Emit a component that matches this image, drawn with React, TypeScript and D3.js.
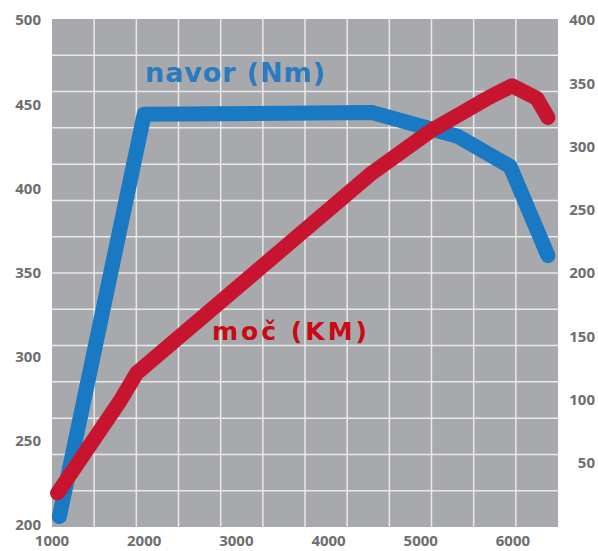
import React from "react";
import * as d3 from "d3";

// ---- data ----
const rpmTicks = [1000, 2000, 3000, 4000, 5000, 6000];
const torqueTicks = [200, 250, 300, 350, 400, 450, 500];
const powerTicks = [50, 100, 150, 200, 250, 300, 350, 400];

const torqueRpm = [1080, 2000, 4470, 5400, 5970, 6380];
const torqueNm = [205, 444, 445, 431, 413, 360];

const powerRpm = [1060, 1740, 1920, 4470, 5100, 5720, 5990, 6260, 6380];
const powerKM = [26, 99, 121, 279, 312, 338, 348, 338, 323];

const gridCols = 12;
const gridRows = 14;

const torqueLabel = "navor (Nm)";
const powerLabel = "moč (KM)";

// ---- layout ----
const W = 598;
const H = 551;
const plotLeft = 52;
const plotRight = 558;
const plotTop = 19;
const plotBottom = 527;

const FONT = "'Open Sans', sans-serif";
const LABEL_FONT = "'DejaVu Sans', sans-serif";

export default function App() {
  const x = d3.scaleLinear().domain([1000, 6500]).range([52, 559]);
  const yL = d3.scaleLinear().domain([200, 500]).range([525, 20]);
  const yR = d3.scaleLinear().domain([0, 400]).range([526, 20]);

  const gx = d3.scaleLinear().domain([0, gridCols]).range([plotLeft, plotRight]);
  const gy = d3.scaleLinear().domain([0, gridRows]).range([plotTop, plotBottom]);

  const torquePts: [number, number][] = torqueRpm.map((r, i) => [x(r), yL(torqueNm[i])]);
  const powerPts: [number, number][] = powerRpm.map((r, i) => [x(r), yR(powerKM[i])]);
  const line = d3.line();

  const axisColor = "#6d6e71";

  return (
    <svg
      width={W}
      height={H}
      style={{ position: "absolute", left: 0, top: 0, background: "#fff" }}
    >
      <rect
        x={plotLeft}
        y={plotTop}
        width={plotRight - plotLeft}
        height={plotBottom - plotTop}
        fill="#a7a9ac"
      />
      {d3.range(1, gridCols).map((i) => (
        <line
          key={"gc" + i}
          x1={gx(i)}
          x2={gx(i)}
          y1={plotTop}
          y2={plotBottom}
          stroke="#e9e9ea"
          strokeWidth={1.5}
        />
      ))}
      {d3.range(1, gridRows).map((i) => (
        <line
          key={"gr" + i}
          x1={plotLeft}
          x2={plotRight}
          y1={gy(i)}
          y2={gy(i)}
          stroke="#e9e9ea"
          strokeWidth={1.5}
        />
      ))}

      <path
        d={line(torquePts) || ""}
        fill="none"
        stroke="#1a79c3"
        strokeWidth={15}
        strokeLinecap="round"
        strokeLinejoin="round"
      />
      <path
        d={line(powerPts) || ""}
        fill="none"
        stroke="#c8152f"
        strokeWidth={15}
        strokeLinecap="round"
        strokeLinejoin="round"
      />

      <text
        x={145}
        y={82}
        fontFamily={LABEL_FONT}
        fontWeight={700}
        fontSize={27}
        fill="#2a7ac2"
        textLength={180}
        lengthAdjust="spacing"
      >
        {torqueLabel}
      </text>
      <text
        x={212}
        y={340}
        fontFamily={LABEL_FONT}
        fontWeight={700}
        fontSize={25}
        fill="#c80a14"
        textLength={155}
        lengthAdjust="spacing"
      >
        {powerLabel}
      </text>

      {torqueTicks.map((t) => (
        <text
          key={"l" + t}
          x={41}
          y={yL(t)}
          dy="0.36em"
          textAnchor="end"
          fontFamily={FONT}
          fontWeight={700}
          fontSize={15}
          fill={axisColor}
        >
          {t}
        </text>
      ))}
      {powerTicks.map((t) => (
        <text
          key={"r" + t}
          x={595}
          y={yR(t)}
          dy="0.36em"
          textAnchor="end"
          fontFamily={FONT}
          fontWeight={700}
          fontSize={15}
          fill={axisColor}
        >
          {t}
        </text>
      ))}
      {rpmTicks.map((t) => (
        <text
          key={"x" + t}
          x={x(t)}
          y={546}
          textAnchor="middle"
          fontFamily={FONT}
          fontWeight={700}
          fontSize={15}
          fill={axisColor}
        >
          {t}
        </text>
      ))}
    </svg>
  );
}
